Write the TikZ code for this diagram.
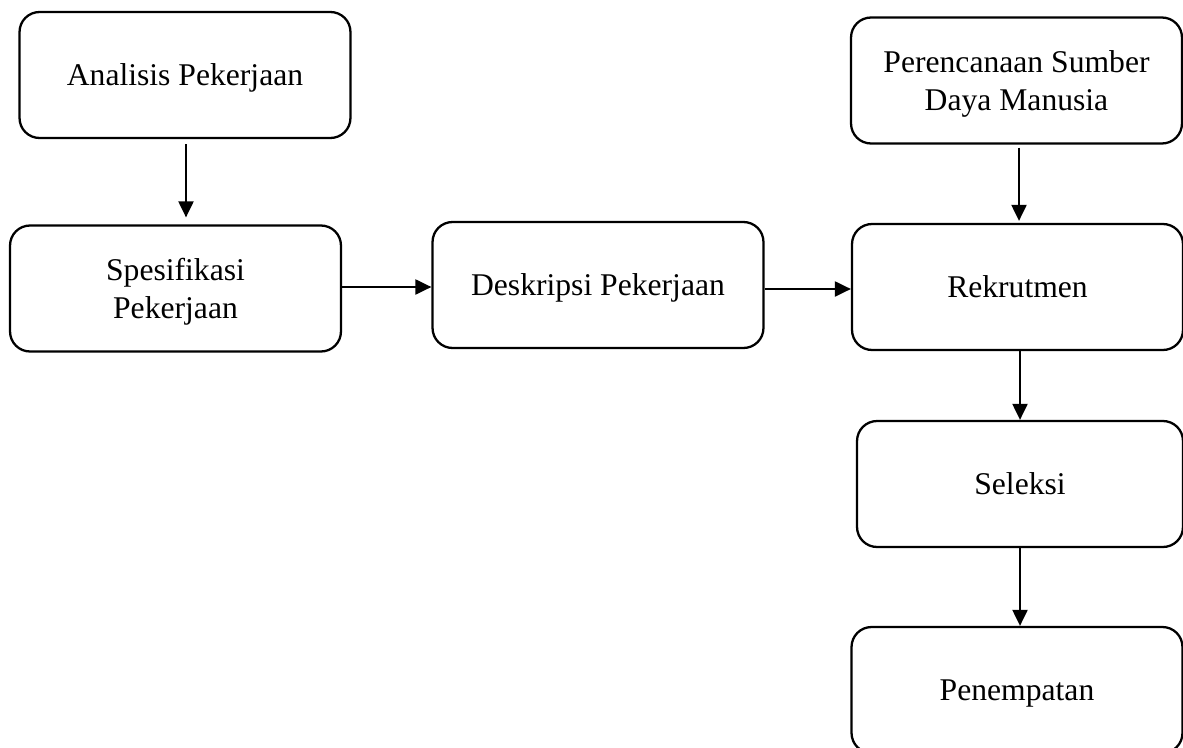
\documentclass[tikz,border=0pt]{standalone}
\usepackage{fontspec}
\setmainfont{Liberation Serif}
\usepackage{tikz}
\usetikzlibrary{arrows.meta}
\tikzset{
  procbox/.style={draw, line width=1.3pt, rounded corners=0.4cm, align=center,
    minimum width=6.62cm, minimum height=2.52cm, inner sep=0pt, text depth=0pt,
    font=\fontsize{18}{21.6}\selectfont},
  flow/.style={line width=1.2pt, -{Triangle[length=0.32cm,width=0.3cm]}}
}
\newcommand{\procnode}[4]{\node[procbox] (#1) at ( #2 , #3 ) {#4};}

\begin{document}
\begin{tikzpicture}[x=0.02cm,y=-0.02cm]
  \useasboundingbox (0,0) rectangle (1183,747);
  % left column
  \procnode{ana}{185}{75}{Analisis Pekerjaan}
  \procnode{spe}{175.5}{288.5}{Spesifikasi\\Pekerjaan}
  % middle
  \procnode{des}{598}{285}{Deskripsi Pekerjaan}
  % right column
  \procnode{psdm}{1016.5}{80.5}{Perencanaan Sumber\\Daya Manusia}
  \procnode{rek}{1017.5}{287}{Rekrutmen}
  \node[procbox, minimum width=6.52cm] (sel) at (1020,484) {Seleksi};
  \procnode{pen}{1017}{690}{Penempatan}

  \draw[flow, shorten <=0.1cm, shorten >=0.14cm] (ana.south -| 186,0) -- (spe.north -| 186,0);
  \draw[flow] (spe.east |- 0,287) -- (des.west |- 0,287);
  \draw[flow] (des.east |- 0,289) -- (rek.west |- 0,289);
  \draw[flow, shorten <=0.06cm, shorten >=0.04cm] (psdm.south -| 1019,0) -- (rek.north -| 1019,0);
  \draw[flow] (rek.south -| 1020,0) -- (sel.north -| 1020,0);
  \draw[flow] (sel.south -| 1020,0) -- (pen.north -| 1020,0);
\end{tikzpicture}
\end{document}
